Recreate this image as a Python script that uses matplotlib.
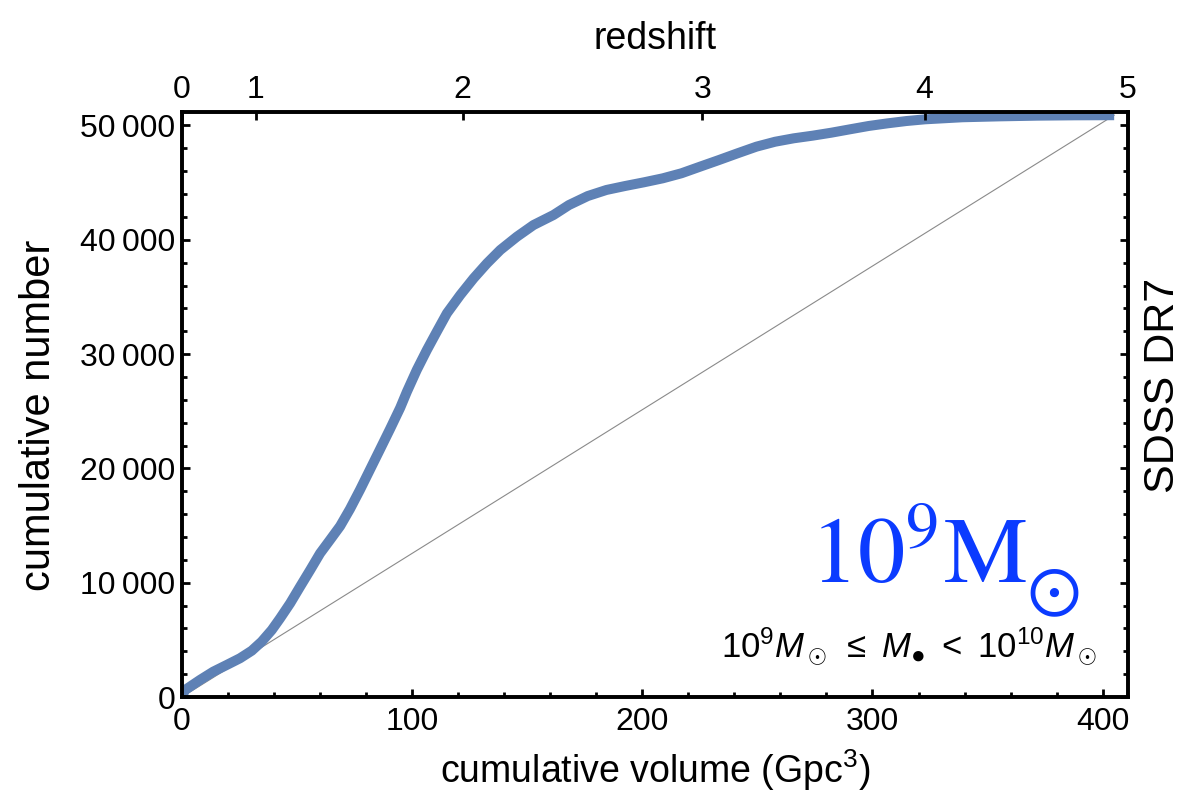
import matplotlib
matplotlib.use("Agg")
import matplotlib.pyplot as plt
from matplotlib.ticker import MultipleLocator, FuncFormatter

plt.rcParams['font.family'] = ['Liberation Sans', 'DejaVu Sans']
plt.rcParams['mathtext.fontset'] = 'custom'
plt.rcParams['mathtext.rm'] = 'Liberation Sans'
plt.rcParams['mathtext.it'] = 'Liberation Sans:italic'
plt.rcParams['mathtext.bf'] = 'Liberation Sans:bold'

# cumulative volume (Gpc^3) vs cumulative number of quasars
volume = [0, 1.3, 7.8, 13.6, 19.4, 25.2, 30.3, 34.6, 39, 42.6, 47, 51.3,
          55.7, 60, 64.3, 68.7, 73, 77.4, 81.7, 86, 90.4, 94.8, 97.7, 102,
          106.4, 110.7, 115.1, 120.9, 126.7, 132.5, 138.3, 145.5, 152.7,
          161.4, 168.1, 176.3, 184.4, 192.6, 200.7, 208.9, 217, 225.1,
          233.3, 241.4, 249.6, 257.7, 265.8, 274, 282.1, 290.3, 298.4,
          306.6, 314.7, 322.8, 339.1, 355.4, 371.7, 388, 405]
number = [0, 610, 1490, 2220, 2800, 3390, 4050, 4840, 5860, 6880, 8200, 9650,
          11110, 12570, 13740, 14950, 16450, 18150, 19900, 21650, 23450,
          25300, 26700, 28610, 30360, 31960, 33570, 35170, 36630, 37940,
          39110, 40270, 41290, 42170, 43040, 43830, 44360, 44710, 45030,
          45380, 45820, 46400, 46980, 47570, 48150, 48580, 48880, 49110,
          49370, 49670, 49960, 50190, 50390, 50540, 50720, 50800, 50860,
          50890, 50900]

# redshift ticks on the top axis, placed at the matching cumulative volume
z_labels = ['0', '1', '2', '3', '4', '5']
z_volume = [0, 32, 122, 226, 322.6, 411]

fig = plt.figure(figsize=(11.81, 8.07), dpi=100)
ax = fig.add_axes([0.1541, 0.1363, 0.8010, 0.7249])

ax.plot([0, volume[-1]], [0, number[-1]], color='#8a8a8a', lw=0.8)
ax.plot(volume, number, color='#5E81B5', lw=7.2, solid_joinstyle='round',
        solid_capstyle='butt')

ax.set_xlim(0, 411)
ax.set_ylim(0, 51180)
ax.xaxis.set_major_locator(MultipleLocator(100))
ax.xaxis.set_minor_locator(MultipleLocator(20))
ax.yaxis.set_major_locator(MultipleLocator(10000))
ax.yaxis.set_minor_locator(MultipleLocator(2000))
ax.yaxis.set_major_formatter(FuncFormatter(
    lambda v, p: f'{int(v):,}'.replace(',', '\u2009')))

for s in ax.spines.values():
    s.set_linewidth(2.6)
ax.tick_params(which='both', direction='in', top=False, right=True,
               width=2, labelsize=23)
ax.tick_params(which='major', length=6)
ax.tick_params(which='minor', length=3.5)
ax.tick_params(axis='x', pad=7)
ax.tick_params(axis='y', pad=5)

ax.set_xlabel('cumulative volume (Gpc$^3$)', fontsize=27, labelpad=8)
ax.set_ylabel('cumulative number', fontsize=30)
ax.yaxis.set_label_coords(-0.130, 0.482)

ax2 = ax.twiny()
ax2.set_xlim(ax.get_xlim())
ax2.set_xticks(z_volume)
ax2.set_xticklabels(z_labels)
ax2.tick_params(direction='in', length=6, width=2, labelsize=23, pad=5)
ax2.set_xlabel('redshift', fontsize=27, labelpad=19)
for s in ax2.spines.values():
    s.set_linewidth(2.6)

ax.text(1.037, 0.532, 'SDSS DR7', transform=ax.transAxes, rotation=90,
        ha='center', va='center', fontsize=31)

ax.text(0.893, 0.195, r'$\mathrm{10^9M}$', transform=ax.transAxes,
        ha='right', va='baseline', fontsize=68, color='#0B3BFF',
        math_fontfamily='stix')
ax.text(0.920, 0.179, r'$\odot$', transform=ax.transAxes,
        ha='center', va='center', fontsize=52, color='#0B3BFF',
        math_fontfamily='stix')
ax.text(0.967, 0.068, r'$10^9M_\odot\ \leq\ M_{●}\ <\ 10^{10}M_\odot$',
        transform=ax.transAxes, ha='right', va='baseline', fontsize=25)

fig.savefig('out.png', dpi=100)
